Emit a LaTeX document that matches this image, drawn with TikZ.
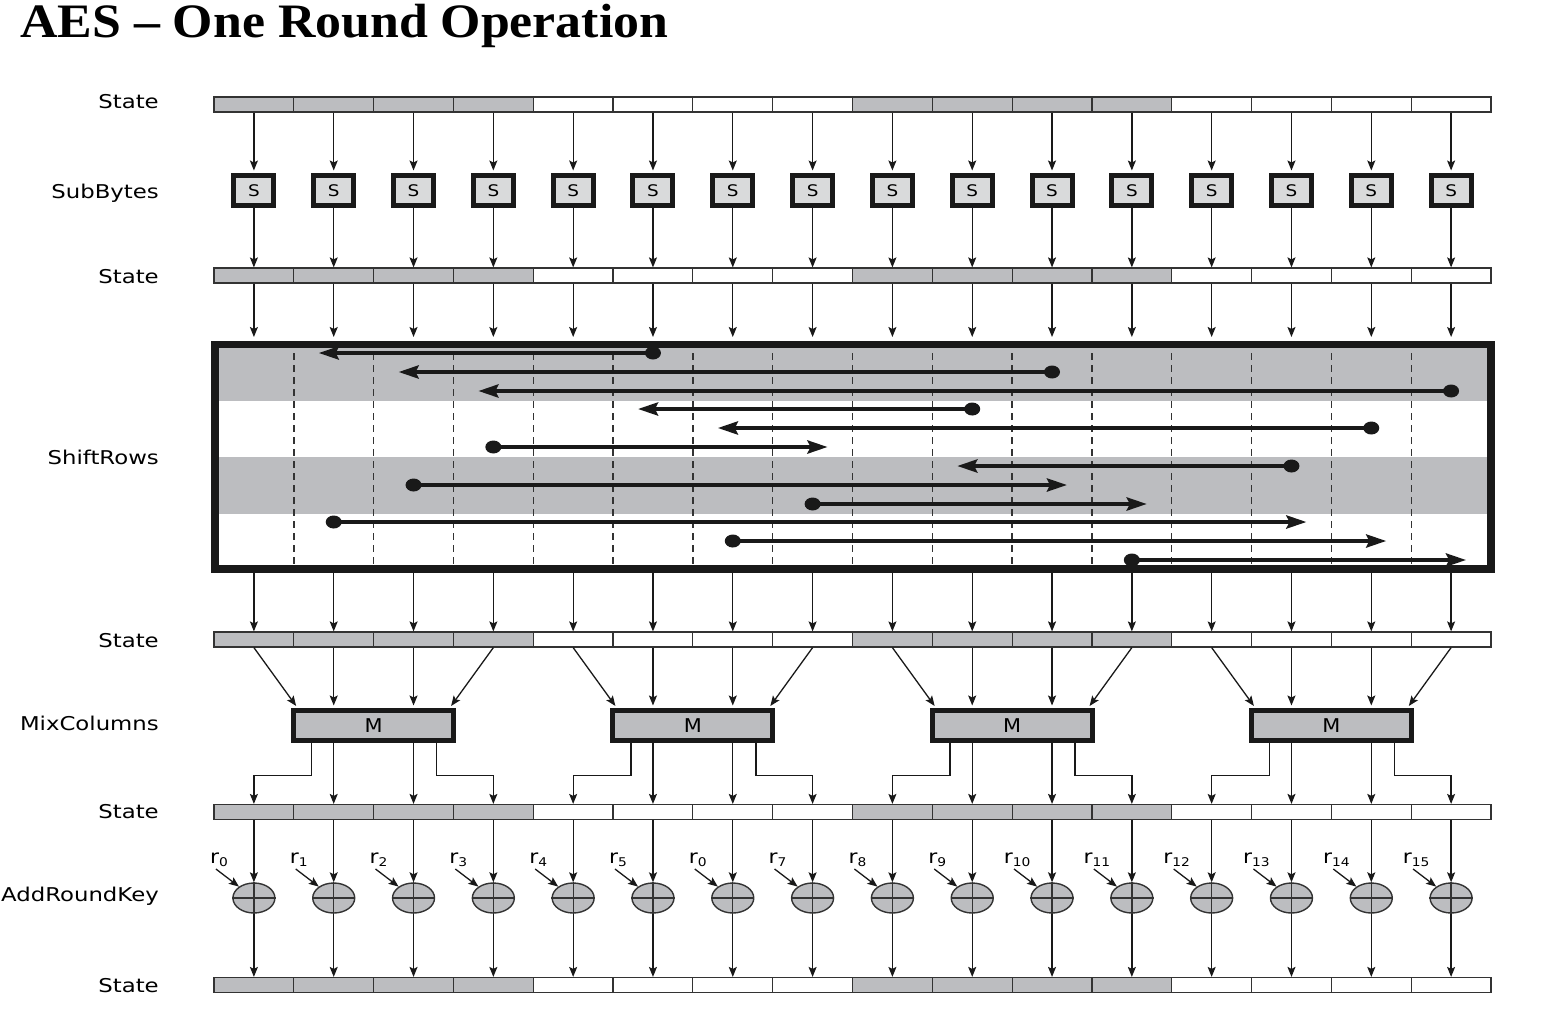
\documentclass[tikz,border=0pt]{standalone}
\usepackage{fontspec}
\setmainfont{DejaVu Sans}
\newfontfamily\titlefont{Liberation Serif}
\usetikzlibrary{arrows.meta,shapes.geometric}

\definecolor{cellgray}{HTML}{BCBDC0}
\definecolor{sgray}{HTML}{D9DADB}
\definecolor{linegray}{HTML}{333333}

\newcommand\rk[1]{r\raisebox{-3.5pt}{\fontsize{12}{12}\selectfont #1}}

\tikzset{
  flow/.style={-{Stealth[length=10pt,width=8pt,inset=2pt]}, line width=1.3pt, draw=black!90},
  cell/.style={draw=linegray, line width=1.2pt, rectangle, minimum width=79.8125pt, minimum height=15pt, inner sep=0pt},
  % box sizes are divided by the text stretch
  sbox/.style={draw=black!90, line width=5pt, fill=sgray, minimum width=34.8pt, minimum height=30pt, inner sep=0pt, font=\fontsize{16}{16}\selectfont, xscale=1.15},
  mbox/.style={draw=black!90, line width=5pt, fill=cellgray, minimum width=145.45pt, minimum height=30pt, inner sep=0pt, font=\fontsize{19}{19}\selectfont, xscale=1.1},
  srbox/.style={draw=black!90, line width=7.5pt, minimum width=1276pt, minimum height=224.5pt, inner sep=0pt},
  sepline/.style={line width=1.4pt, draw=black!80, dash pattern=on 7pt off 5pt},
  shiftarr/.style={-{Stealth[length=20pt,width=13pt,inset=3pt]}, line width=4pt, draw=black!90},
  dotn/.style={ellipse, fill=black!90, minimum width=16pt, minimum height=13pt, inner sep=0pt},
  xorc/.style={ellipse, draw=linegray, line width=1.4pt, fill=cellgray, minimum width=42pt, minimum height=30pt, inner sep=0pt},
  rowlbl/.style={anchor=base east, inner sep=0pt, font=\fontsize{19}{19}\selectfont, xscale=1.2},
  keylbl/.style={anchor=base, inner sep=0pt, font=\fontsize{19}{19}\selectfont, xscale=1.15}
}

\begin{document}
\begin{tikzpicture}[x=1pt,y=-1pt]
  \useasboundingbox (0,0) rectangle (1544,1028);

  % Title
  \node[anchor=base west, inner sep=0pt, font=\titlefont\bfseries\fontsize{48}{48}\selectfont, xscale=1.08] (title) at (20,37) {AES – One Round Operation};

  % Row labels
  \foreach \t/\y [count=\n] in {State/108, SubBytes/198, State/283, ShiftRows/464, State/647, MixColumns/730, State/818, AddRoundKey/901, State/992}
    \node[rowlbl] (lbl\n) at (159,\y) {\t};

  % State rows
  \foreach \r/\y in {0/104.5, 1/275.5, 2/639.5, 3/812, 4/985}
    \foreach \i in {0,...,15} {
      \pgfmathtruncatemacro\g{mod(floor(\i/4),2)}
      \ifnum\g=0 \def\cf{cellgray}\else\def\cf{white}\fi
      \node[cell, fill=\cf] (c\r-\i) at ({214+79.8125*(\i+0.5)},\y) {};
    }

  % SubBytes
  \foreach \i in {0,...,15} {
    \node[sbox] (s\i) at ({214+79.8125*(\i+0.5)},190.5) {S};
    \draw[flow, shorten >=2.5pt] (c0-\i.south) -- (s\i.north);
    \draw[flow] (s\i.south) -- (c1-\i.north);
  }

  % ShiftRows
  \fill[cellgray] (215,344.5) rectangle (1491,400.5);
  \fill[cellgray] (215,457) rectangle (1491,513.5);
  \foreach \k in {1,...,15}
    \draw[sepline] ({214+79.8125*\k},353) -- ({214+79.8125*\k},566);
  \node[srbox] (sr) at (853,456.75) {};
  \foreach \i in {0,...,15} {
    \draw[flow, shorten >=3.75pt] (c1-\i.south) -- (c1-\i.south |- sr.north);
    \draw[flow] (c1-\i.south |- sr.south) -- (c2-\i.north);
  }
  % byte moves
  \foreach \a/\b/\y in {5/1/353, 10/2/372, 15/3/391, 9/5/409, 14/6/428, 3/7/447,
                        13/9/466, 2/10/485, 7/11/504, 1/13/522, 6/14/541, 11/15/560} {
    \pgfmathsetmacro\xa{214+79.8125*(\a+0.5)}
    \pgfmathsetmacro\xb{214+79.8125*(\b+0.5)+15*sign(\b-\a)}
    \node[dotn] (mv\a) at (\xa,\y) {};
    \coordinate (mvend\a) at (\xb,\y);
    \draw[shiftarr] (mv\a.center) -- (mvend\a);
  }

  % MixColumns
  \foreach \g in {0,...,3} {
    \pgfmathtruncatemacro\qa{4*\g}
    \pgfmathtruncatemacro\qb{4*\g+1}
    \pgfmathtruncatemacro\qc{4*\g+2}
    \pgfmathtruncatemacro\qd{4*\g+3}
    \node[mbox] (m\g) at ({214+79.8125*(4*\g+2)},725.5) {M};
    % into M
    \draw[flow, shorten >=2.5pt] (c2-\qa.south) -- ([xshift=-76pt]m\g.north);
    \draw[flow, shorten >=2.5pt] (c2-\qb.south) -- (c2-\qb.south |- m\g.north);
    \draw[flow, shorten >=2.5pt] (c2-\qc.south) -- (c2-\qc.south |- m\g.north);
    \draw[flow, shorten >=2.5pt] (c2-\qd.south) -- ([xshift=76pt]m\g.north);
    % out of M
    \draw[flow] ([xshift=-62pt]m\g.south) -- ++(0,32.2) -| (c3-\qa.north);
    \draw[flow] (c2-\qb.south |- m\g.south) -- (c3-\qb.north);
    \draw[flow] (c2-\qc.south |- m\g.south) -- (c3-\qc.north);
    \draw[flow] ([xshift=63pt]m\g.south) -- ++(0,32.2) -| (c3-\qd.north);
  }

  % AddRoundKey
  \foreach \i/\k in {0/0, 1/1, 2/2, 3/3, 4/4, 5/5, 6/0, 7/7, 8/8, 9/9, 10/10, 11/11, 12/12, 13/13, 14/14, 15/15} {
    \pgfmathsetmacro\cx{214+79.8125*(\i+0.5)}
    \node[xorc] (x\i) at (\cx,898) {};
    \draw[linegray, line width=1.3pt] (x\i.north) -- (x\i.south) (x\i.west) -- (x\i.east);
    \draw[flow] (c3-\i.south) -- (x\i.north);
    \draw[flow] (x\i.south) -- (c4-\i.north);
    \node[keylbl] (k\i) at (\cx-35,863) {\rk{\k}};
    \coordinate (kt\i) at (\cx-38,869);
    \draw[flow] (kt\i) -- (x\i);
  }
\end{tikzpicture}
\end{document}
